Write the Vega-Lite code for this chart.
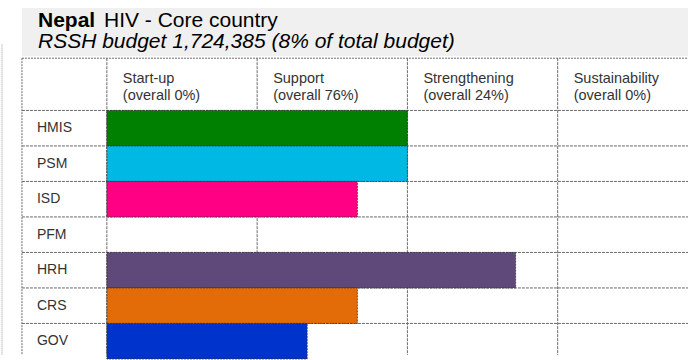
{
  "$schema": "https://vega.github.io/schema/vega-lite/v6.json",
  "width": 689,
  "height": 360,
  "autosize": {"type": "fit", "contains": "padding"},
  "padding": 0,
  "background": "white",
  "config": {"view": {"stroke": null}, "text": {"font": "Liberation Sans"}},
  "datasets": {
    "rows": [
      {"area": "HMIS", "order": 0, "value": 2.0},
      {"area": "PSM", "order": 1, "value": 2.0},
      {"area": "ISD", "order": 2, "value": 1.667},
      {"area": "PFM", "order": 3, "value": 0},
      {"area": "HRH", "order": 4, "value": 2.72},
      {"area": "CRS", "order": 5, "value": 1.667},
      {"area": "GOV", "order": 6, "value": 1.333}
    ],
    "cols": [
      {"col": 0, "label": "Start-up\n(overall 0%)"},
      {"col": 1, "label": "Support\n\u00a0(overall 76%)"},
      {"col": 2, "label": "Strengthening\n(overall 24%)"},
      {"col": 3, "label": "Sustainability\n(overall 0%)"}
    ],
    "heading": [{"country": "Nepal", "rest": "HIV - Core country", "sub": "RSSH budget 1,724,385 (8% of total budget)"}]
  },
  "layer": [
    {
      "data": {"name": "heading"},
      "mark": {"type": "rect", "fill": "#f0f0f0"},
      "encoding": {
        "x": {"datum": -0.5648, "type": "quantitative", "scale": {"domain": [-0.71096, 3.86711], "nice": false, "zero": false}, "axis": null},
        "x2": {"datum": 3.86711},
        "y": {"datum": -2.889, "type": "quantitative", "scale": {"domain": [-3.1111, 6.8889], "reverse": true, "nice": false, "zero": false}, "axis": null},
        "y2": {"datum": -1.528}
      }
    },
    {
      "data": {"name": "rows"},
      "mark": {"type": "rule", "color": "#6a6a6a", "strokeDash": [3, 1], "strokeWidth": 1},
      "encoding": {
        "x": {"datum": -0.5648, "type": "quantitative"},
        "x2": {"datum": 3.86711},
        "y": {"field": "order", "type": "quantitative"}
      }
    },
    {
      "data": {"name": "heading"},
      "mark": {"type": "rule", "color": "#6a6a6a", "strokeDash": [2, 1], "strokeWidth": 1},
      "encoding": {
        "x": {"datum": -0.5648, "type": "quantitative"},
        "x2": {"datum": 3.86711},
        "y": {"datum": -1.472, "type": "quantitative"}
      }
    },
    {
      "data": {"name": "cols"},
      "mark": {"type": "rule", "color": "#6a6a6a", "strokeDash": [3, 1], "strokeWidth": 1},
      "encoding": {
        "x": {"field": "col", "type": "quantitative"},
        "y": {"datum": -1.472, "type": "quantitative"},
        "y2": {"datum": 6.8889}
      }
    },
    {
      "data": {"name": "heading"},
      "mark": {"type": "rule", "color": "#6a6a6a", "strokeDash": [2, 1], "strokeWidth": 1},
      "encoding": {
        "x": {"datum": -0.5648, "type": "quantitative"},
        "y": {"datum": -1.472, "type": "quantitative"},
        "y2": {"datum": 6.8889}
      }
    },
    {
      "data": {"name": "heading"},
      "mark": {"type": "rule", "color": "#999999", "strokeDash": [1, 1], "strokeWidth": 1},
      "encoding": {
        "x": {"datum": -0.6977, "type": "quantitative"},
        "y": {"datum": -1.861, "type": "quantitative"},
        "y2": {"datum": 6.8889}
      }
    },
    {
      "data": {"name": "rows"},
      "transform": [
        {"filter": "datum.value > 0"},
        {"calculate": "datum.order + 1", "as": "order_end"},
        {"calculate": "0", "as": "start"}
      ],
      "mark": {"type": "rect", "stroke": "#333333", "strokeDash": [2, 1], "strokeWidth": 0.8, "opacity": 1},
      "encoding": {
        "x": {"field": "start", "type": "quantitative"},
        "x2": {"field": "value"},
        "y": {"field": "order", "type": "quantitative"},
        "y2": {"field": "order_end"},
        "color": {
          "field": "area",
          "type": "nominal",
          "scale": {
            "domain": ["HMIS", "PSM", "ISD", "PFM", "HRH", "CRS", "GOV"],
            "range": ["#008000", "#00b8e4", "#ff0084", "#ffffff", "#5f497a", "#e36c09", "#0033cc"]
          },
          "legend": null
        }
      }
    },
    {
      "data": {"name": "cols"},
      "mark": {"type": "text", "align": "left", "baseline": "alphabetic", "dx": 16, "fontSize": 14.5, "lineBreak": "\n", "lineHeight": 17, "color": "#333333"},
      "encoding": {
        "x": {"field": "col", "type": "quantitative"},
        "y": {"datum": -0.778, "type": "quantitative"},
        "text": {"field": "label"}
      }
    },
    {
      "data": {"name": "rows"},
      "transform": [{"calculate": "datum.order + 0.5", "as": "mid"}],
      "mark": {"type": "text", "align": "left", "baseline": "middle", "dx": 15, "fontSize": 14, "color": "#333333"},
      "encoding": {
        "x": {"datum": -0.5648, "type": "quantitative"},
        "y": {"field": "mid", "type": "quantitative"},
        "text": {"field": "area"}
      }
    },
    {
      "data": {"name": "heading"},
      "mark": {"type": "text", "align": "left", "baseline": "alphabetic", "dx": 16, "fontSize": 21, "fontWeight": "bold", "color": "#000000"},
      "encoding": {
        "x": {"datum": -0.5648, "type": "quantitative"},
        "y": {"datum": -2.361, "type": "quantitative"},
        "text": {"field": "country"}
      }
    },
    {
      "data": {"name": "heading"},
      "mark": {"type": "text", "align": "left", "baseline": "alphabetic", "dx": 82, "fontSize": 21, "color": "#000000"},
      "encoding": {
        "x": {"datum": -0.5648, "type": "quantitative"},
        "y": {"datum": -2.361, "type": "quantitative"},
        "text": {"field": "rest"}
      }
    },
    {
      "data": {"name": "heading"},
      "mark": {"type": "text", "align": "left", "baseline": "alphabetic", "dx": 16, "fontSize": 21, "fontStyle": "italic", "color": "#000000"},
      "encoding": {
        "x": {"datum": -0.5648, "type": "quantitative"},
        "y": {"datum": -1.764, "type": "quantitative"},
        "text": {"field": "sub"}
      }
    }
  ]
}
